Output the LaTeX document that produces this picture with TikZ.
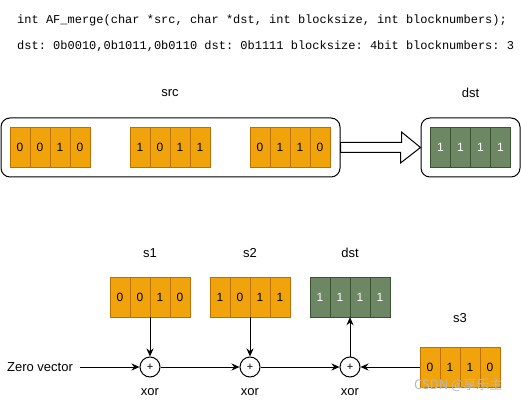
\documentclass[tikz,border=0pt]{standalone}
\usepackage{fontspec}
\setmainfont{Liberation Sans}
\setmonofont{Liberation Mono}
\newfontfamily\cjkfont{Noto Sans CJK SC}
\usepackage{xcolor}
\definecolor{FillOrange}{HTML}{F0A30A}
\definecolor{BorderOrange}{HTML}{BD7000}
\definecolor{FillGreen}{HTML}{6D8764}
\definecolor{BorderGreen}{HTML}{3A5431}
\usepackage{tikz}
\usetikzlibrary{arrows.meta, positioning, calc}
\tikzset{
  % one bit of a block
  cell/.style={
    rectangle, draw, line width=1pt,
    minimum width=20pt, minimum height=40pt, inner sep=0pt,
    font=\fontsize{12}{14}\selectfont
  },
  cell orange/.style={cell, fill=FillOrange, draw=BorderOrange, text=black},
  cell green/.style={cell, fill=FillGreen, draw=BorderGreen, text=white},
  % invisible frame round four cells
  block/.style={rectangle, minimum width=80pt, minimum height=40pt, inner sep=0pt},
  % rounded outer box
  container/.style={rectangle, rounded corners=9pt, draw, line width=1pt},
  % xor operator
  xorop/.style={
    circle, draw, line width=1pt, fill=white,
    minimum size=20pt, inner sep=0pt, font=\fontsize{11}{12}\selectfont
  },
  lbl/.style={font=\fontsize{13}{15}\selectfont},
  code/.style={font=\ttfamily\frenchspacing\fontsize{12}{14}\selectfont, anchor=west, inner sep=0pt},
  % Arrows
  arr/.style={-{Stealth[length=8pt,width=7pt]}, line width=1pt},
  bigarrow/.style={line width=1pt, fill=white},
}
% name, x, y, cell style, bits
\newcommand{\bitblock}[5]{%
  \node[block] (#1) at (#2,#3) {};
  \foreach \b [count=\i] in {#5}
    \node[#4] (#1-\i) at ({#2-50+20*\i},#3) {\b};
}

\begin{document}
\begin{tikzpicture}[x=1pt, y=-1pt]
  \useasboundingbox (0,0) rectangle (521,403);

  %% Signature
  \node[code] (sig) at (17,20) {int AF\_merge(char *src, char *dst, int blocksize, int blocknumbers);};
  \node[code] (args) at (17,46) {dst: 0b0010,0b1011,0b0110 dst: 0b1111 blocksize: 4bit blocknumbers: 3};

  %% Top: merge overview
  \node[lbl] (srclbl) at (170,93) {src};
  \node[lbl] (dstlbl) at (470.5,93) {dst};
  \node[container, minimum width=339pt, minimum height=59pt] (srcbox) at (170.5,147.5) {};
  \node[container, minimum width=99pt, minimum height=59pt] (dstbox) at (470.5,147.5) {};

  \bitblock{src1}{50}{147.5}{cell orange}{0,0,1,0}
  \bitblock{src2}{170}{147.5}{cell orange}{1,0,1,1}
  \bitblock{src3}{290}{147.5}{cell orange}{0,1,1,0}
  \bitblock{dstt}{470.5}{147.5}{cell green}{1,1,1,1}

  \draw[bigarrow] ($(srcbox.east)+(0,-5)$) -- ++(61,0) -- ++(0,-10.5)
    -- (dstbox.west) -- ++(-20,15.5) -- ++(0,-10.5) -- ($(srcbox.east)+(0,5)$) -- cycle;

  %% Bottom: xor chain
  \node[lbl] (s1lbl) at (150,253) {s1};
  \node[lbl] (s2lbl) at (250,253) {s2};
  \node[lbl] (dstblbl) at (350,253) {dst};
  \node[lbl] (s3lbl) at (460,318) {s3};

  \bitblock{s1}{150}{297}{cell orange}{0,0,1,0}
  \bitblock{s2}{250}{297}{cell orange}{1,0,1,1}
  \bitblock{dstb}{350}{297}{cell green}{1,1,1,1}
  \bitblock{s3}{460}{367}{cell orange}{0,1,1,0}

  \node[xorop] (x1) at (150,367) {+};
  \node[xorop] (x2) at (250,367) {+};
  \node[xorop] (x3) at (350,367) {+};
  \node[lbl] (x1lbl) at (150,392) {xor};
  \node[lbl] (x2lbl) at (250,392) {xor};
  \node[lbl] (x3lbl) at (350,392) {xor};

  \node[lbl] (zero) at (40,367) {Zero vector};

  %% Flow
  \draw[arr, shorten <=4pt] (zero) -- (x1);
  \draw[arr] (s1) -- (x1);
  \draw[arr] (x1) -- (x2);
  \draw[arr] (s2) -- (x2);
  \draw[arr] (x2) -- (x3);
  \draw[arr] (s3) -- (x3);
  \draw[arr] (x3) -- (dstb);

  %% Watermark
  \node[text=gray!55, font=\cjkfont\fontsize{13}{14}\selectfont, anchor=east] (mark) at (506,385) {CSDN @享乐主};
\end{tikzpicture}
\end{document}
